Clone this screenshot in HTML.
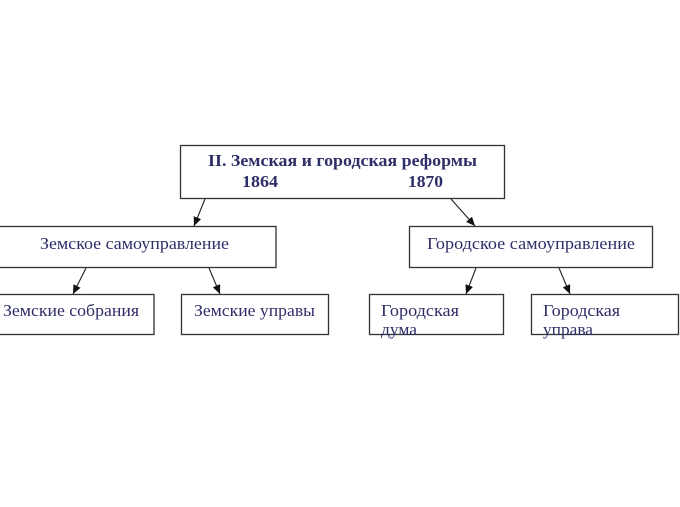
<!DOCTYPE html>
<html><head><meta charset="utf-8"><style>
html,body{margin:0;padding:0;background:#fff;}
svg{display:block;}
text{font-family:"Liberation Serif","DejaVu Serif",serif;fill:#2e2e68;}
</style></head><body>
<svg width="680" height="507" viewBox="0 0 680 507" xmlns="http://www.w3.org/2000/svg">
<defs>
<marker id="ah" markerWidth="9" markerHeight="8" refX="9" refY="4" orient="auto" markerUnits="userSpaceOnUse">
<path d="M0,0 L9,4 L0,8 Z" fill="#111"/>
</marker>
</defs>
<rect x="0" y="0" width="680" height="507" fill="#fff"/>
<g fill="none" stroke="#333" stroke-width="1.3">
<rect x="180.5" y="145.5" width="324" height="53"/>
<rect x="-2" y="226.5" width="278" height="41"/>
<rect x="409.5" y="226.5" width="243" height="41"/>
<rect x="-2" y="294.5" width="156" height="40"/>
<rect x="181.5" y="294.5" width="147" height="40"/>
<rect x="369.5" y="294.5" width="134" height="40"/>
<rect x="531.5" y="294.5" width="147" height="40"/>
</g>
<g stroke="#222" stroke-width="1.1" marker-end="url(#ah)">
<line x1="205" y1="199" x2="194" y2="226"/>
<line x1="451" y1="199" x2="475" y2="226"/>
<line x1="86" y1="268" x2="73" y2="294"/>
<line x1="209" y1="268" x2="220" y2="294"/>
<line x1="476" y1="268" x2="466" y2="294"/>
<line x1="559" y1="268" x2="570" y2="294"/>
</g>
<text x="208" y="166" font-size="16.5" font-weight="bold" fill="#1c1c5a" textLength="269" lengthAdjust="spacingAndGlyphs">II. Земская и городская реформы</text>
<text x="242" y="187" font-size="16.5" font-weight="bold" fill="#1c1c5a" textLength="36" lengthAdjust="spacingAndGlyphs">1864</text>
<text x="408" y="187" font-size="16.5" font-weight="bold" fill="#1c1c5a" textLength="35" lengthAdjust="spacingAndGlyphs">1870</text>
<text x="40" y="249" font-size="17" textLength="189" lengthAdjust="spacingAndGlyphs">Земское самоуправление</text>
<text x="427" y="249" font-size="17" textLength="208" lengthAdjust="spacingAndGlyphs">Городское самоуправление</text>
<text x="3" y="316" font-size="17" textLength="136" lengthAdjust="spacingAndGlyphs">Земские собрания</text>
<text x="194" y="316" font-size="17" textLength="121" lengthAdjust="spacingAndGlyphs">Земские управы</text>
<text x="381" y="316" font-size="17" textLength="78" lengthAdjust="spacingAndGlyphs">Городская</text>
<text x="381" y="335" font-size="17" textLength="36" lengthAdjust="spacingAndGlyphs">дума</text>
<text x="543" y="316" font-size="17" textLength="77" lengthAdjust="spacingAndGlyphs">Городская</text>
<text x="543" y="335" font-size="17" textLength="50" lengthAdjust="spacingAndGlyphs">управа</text>
</svg>
</body></html>
